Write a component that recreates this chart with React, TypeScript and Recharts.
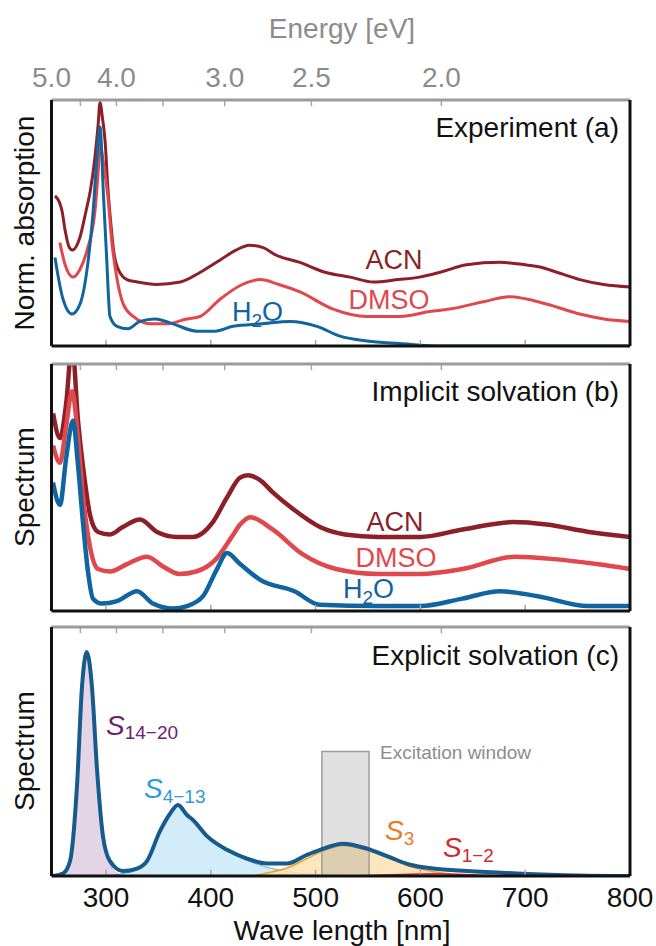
import React from "react";
import { ComposedChart, Line, Area, XAxis, YAxis, ReferenceArea, ReferenceLine } from "recharts";

// wavelength [nm], normalised value
const expAcn = [[251.3,0.61],[255,0.59],[258,0.55],[261,0.47],[265,0.4],[268,0.39],[275,0.44],[281,0.55],[285,0.63],[289.5,0.77],[292.5,0.9],[294.3,0.99],[296.5,0.93],[299,0.84],[302,0.63],[305,0.48],[307.5,0.38],[313,0.3],[320,0.27],[330,0.26],[348,0.25],[371,0.26],[390,0.3],[409,0.35],[424,0.39],[437,0.41],[450,0.4],[462,0.37],[485,0.34],[509,0.3],[533,0.28],[555,0.26],[579,0.27],[599,0.28],[619,0.3],[644,0.33],[676,0.34],[700,0.33],[715,0.32],[730,0.3],[752,0.27],[775,0.25],[800,0.24]];
const expDmso = [[256,0.42],[261,0.33],[268.5,0.28],[275,0.31],[282,0.39],[289.5,0.55],[292.4,0.7],[294.3,0.82],[297,0.76],[302.2,0.59],[305.4,0.43],[310.2,0.28],[316.5,0.17],[326,0.12],[342,0.09],[358,0.09],[377,0.11],[389.7,0.12],[408.8,0.19],[430,0.25],[447,0.27],[465,0.25],[485,0.22],[516.7,0.15],[549,0.12],[580.5,0.12],[609,0.14],[628,0.15],[660,0.18],[685,0.2],[721,0.17],[752,0.13],[775,0.11],[800,0.1]];
const expH2o = [[251.3,0.36],[259,0.19],[267.6,0.13],[275.2,0.17],[282.8,0.34],[287.6,0.54],[291.4,0.77],[294.3,0.89],[297.4,0.63],[300.6,0.36],[303.8,0.12],[310.5,0.08],[321,0.07],[332.4,0.1],[346.8,0.11],[364,0.09],[386.8,0.06],[404,0.06],[421.2,0.08],[449,0.09],[475.6,0.1],[501.3,0.08],[523.3,0.04],[549,0.02],[580.5,0.01],[620,0],[700,0],[800,0]];

const impAcn = [[249.5,0.8],[256.1,0.7],[262,0.84],[267.6,1.08],[273.3,0.77],[280,0.52],[284.7,0.39],[292.4,0.32],[303.8,0.31],[316,0.34],[332.4,0.37],[348.7,0.32],[367.7,0.3],[383,0.3],[402,0.36],[415.5,0.46],[427.9,0.54],[435.5,0.55],[447,0.53],[459.2,0.48],[479.4,0.41],[504.2,0.34],[528,0.31],[560,0.3],[600,0.3],[640.3,0.33],[688.4,0.36],[720.5,0.35],[760.6,0.32],[800,0.3]];
const impDmso = [[249.5,0.67],[256.1,0.6],[262,0.75],[267.6,0.89],[273.3,0.7],[278,0.47],[284.7,0.26],[292.4,0.17],[303.8,0.16],[320,0.19],[339.2,0.22],[354.5,0.18],[370,0.15],[386,0.16],[405,0.21],[420,0.3],[428,0.35],[437.6,0.38],[459,0.33],[487.5,0.23],[519.5,0.17],[560,0.15],[600,0.15],[640,0.17],[690,0.22],[728,0.21],[768,0.19],[800,0.17]];
const impH2o = [[249.4,0.52],[256.1,0.43],[262,0.62],[268.5,0.77],[273.3,0.59],[278,0.36],[282.8,0.16],[287.6,0.05],[296.2,0.03],[310.5,0.04],[329.6,0.08],[344.8,0.03],[364,0.01],[377.3,0.02],[392.6,0.06],[405.9,0.17],[415.5,0.235],[428,0.19],[447.6,0.125],[479.8,0.08],[503.8,0.025],[560,0.02],[600,0.02],[640,0.05],[676,0.08],[712,0.06],[760,0.02],[800,0.02]];

const explTotal = [[249.4,0],[259,0.01],[265.7,0.06],[272.3,0.36],[277.1,0.76],[281.6,0.9],[286.6,0.76],[291.4,0.43],[297.1,0.16],[303.8,0.06],[316.2,0.02],[329.6,0.03],[339.1,0.06],[351.5,0.18],[361.1,0.25],[368.7,0.285],[377.3,0.245],[383,0.225],[396.4,0.16],[415.5,0.105],[434.5,0.07],[453.6,0.05],[472.7,0.05],[491.8,0.085],[504.2,0.105],[526.2,0.13],[549,0.11],[568.2,0.08],[590.2,0.045],[612.1,0.03],[644.6,0.02],[692.2,0.01],[750,0.002],[800,0]];
const explS1420 = [[249.4,0],[259,0.01],[265.7,0.06],[272.3,0.36],[277.1,0.76],[281.6,0.9],[286.6,0.76],[291.4,0.43],[297.1,0.15],[303.8,0.045],[310,0.012],[318,0]];
const explS413 = [[300,0],[316.2,0.01],[329.6,0.025],[339.1,0.055],[351.5,0.175],[361.1,0.245],[368.7,0.28],[377.3,0.24],[383,0.22],[396.4,0.155],[415.5,0.1],[434.5,0.062],[453.6,0.035],[472.7,0.018],[491.8,0.008],[510,0.003],[530,0]];
const explS3 = [[440,0],[453.6,0.012],[472.7,0.032],[491.8,0.07],[504.2,0.095],[526.2,0.122],[549,0.103],[568.2,0.074],[590.2,0.038],[612.1,0.018],[630,0.007],[650,0]];
const explS12 = [[540,0],[565,0.004],[590,0.007],[612,0.009],[635,0.007],[660,0.003],[690,0]];

const excitationWindow = [506, 551]; // nm
const excitationHeight = 0.5;

const energyLabels = [5.0, 4.0, 3.0, 2.5, 2.0];
const energyTicks = [4.5, 4.0, 3.5, 3.0, 2.5, 2.0];
const nmLabels = [300, 400, 500, 600, 700, 800];
const nmTicks = [300, 400, 500, 600, 700];

const FONT = "'Liberation Sans', Arial, Helvetica, sans-serif";
const NM_MIN = 248;
const NM_MAX = 800;
const TICK = 0.025; // inner tick length, fraction of panel height
const ev2nm = (e: number) => 1240 / e;
const pts = (arr: number[][]) => arr.map(([x, v]) => ({ x, v }));

const C = {
  acn: "#8c1f27",
  dmso: "#e0484d",
  h2o: "#10649f",
  total: "#175a8c",
  frame: "#111",
  topLine: "#9c9c9c",
  tick: "#a8a8a8",
};

const dom: [number, number] = [NM_MIN, NM_MAX];

// box + inner tick marks, shared by the three panels
const frame = (xId: string | number) => [
  ...energyTicks.map((e) => (
    <ReferenceLine key={"e" + e} xAxisId={xId} stroke={C.tick} strokeWidth={1.5}
      segment={[{ x: ev2nm(e), y: 1 }, { x: ev2nm(e), y: 1 - TICK }]} />
  )),
  ...nmTicks.map((n) => (
    <ReferenceLine key={"n" + n} xAxisId={xId} stroke={C.tick} strokeWidth={1.5}
      segment={[{ x: n, y: 0 }, { x: n, y: TICK }]} />
  )),
  <ReferenceLine key="top" xAxisId={xId} y={1} stroke={C.topLine} strokeWidth={3} />,
  <ReferenceLine key="bottom" xAxisId={xId} y={0} stroke={C.frame} strokeWidth={3} />,
  <ReferenceLine key="left" xAxisId={xId} x={NM_MIN} stroke={C.frame} strokeWidth={3} />,
  <ReferenceLine key="right" xAxisId={xId} x={NM_MAX} stroke={C.frame} strokeWidth={3} />,
];

const line = (key: string, data: number[][], color: string, w: number, xId: string | number = 0) => (
  <Line key={key} xAxisId={xId} data={pts(data)} dataKey="v" type="monotone" stroke={color} strokeWidth={w}
    dot={false} activeDot={false} isAnimationActive={false} />
);

const yAxis = <YAxis hide domain={[0, 1]} allowDataOverflow />;

const T = { fontSize: 28, fill: "#111" };

export default function App() {
  return (
    <div style={{ position: "absolute", left: 0, top: 0, width: 656, height: 946, background: "#fff", fontFamily: FONT }}>
      {/* (a) experiment */}
      <div style={{ position: "absolute", left: 0, top: 0 }}>
        <ComposedChart width={656} height={352} margin={{ top: 0, right: 26, bottom: 6, left: 51.5 }}>
          <XAxis xAxisId="top" dataKey="x" orientation="top" type="number" domain={dom} allowDataOverflow
            ticks={energyLabels.map(ev2nm)} interval={0} tickFormatter={(v: number) => (1240 / v).toFixed(1)}
            height={100} tickSize={0} tickMargin={13} tickLine={false} axisLine={false}
            tick={{ fill: "#8c8c8c", fontSize: 28 }} />
          {yAxis}
          {line("acn", expAcn, C.acn, 3, "top")}
          {line("dmso", expDmso, C.dmso, 3, "top")}
          {line("h2o", expH2o, C.h2o, 3, "top")}
          {frame("top")}
        </ComposedChart>
      </div>

      {/* (b) implicit solvation */}
      <div style={{ position: "absolute", left: 0, top: 354 }}>
        <ComposedChart width={656} height={263} margin={{ top: 10, right: 26, bottom: 6, left: 51.5 }}>
          <XAxis hide dataKey="x" type="number" domain={dom} allowDataOverflow />
          {yAxis}
          {line("acn", impAcn, C.acn, 4.5)}
          {line("dmso", impDmso, C.dmso, 4.5)}
          {line("h2o", impH2o, C.h2o, 4.5)}
          {frame(0)}
        </ComposedChart>
      </div>

      {/* (c) explicit solvation */}
      <div style={{ position: "absolute", left: 0, top: 617 }}>
        <ComposedChart width={656} height={299} margin={{ top: 10, right: 26, bottom: 0, left: 51.5 }}>
          <XAxis dataKey="x" type="number" domain={dom} allowDataOverflow ticks={nmLabels} interval={0}
            height={40} tickSize={0} tickMargin={11} tickLine={false} axisLine={false}
            tick={{ fill: "#111", fontSize: 28 }} />
          {yAxis}
          <Area data={pts(explS1420)} dataKey="v" type="monotone" fill="#e3d5e5" fillOpacity={1}
            stroke="#c9b3cc" strokeWidth={1} isAnimationActive={false} dot={false} activeDot={false} />
          <Area data={pts(explS413)} dataKey="v" type="monotone" fill="#d3ecf9" fillOpacity={1}
            stroke="#5fb3dc" strokeWidth={1} isAnimationActive={false} dot={false} activeDot={false} />
          <Area data={pts(explS3)} dataKey="v" type="monotone" fill="#fbe2b3" fillOpacity={0.85}
            stroke="#eda126" strokeWidth={1.5} isAnimationActive={false} dot={false} activeDot={false} />
          <Area data={pts(explS12)} dataKey="v" type="monotone" fill="#f6c6c6" fillOpacity={0.8}
            stroke="#d8262f" strokeWidth={1.5} isAnimationActive={false} dot={false} activeDot={false} />
          <ReferenceArea x1={excitationWindow[0]} x2={excitationWindow[1]} y1={0} y2={excitationHeight}
            fill="#8f8f8f" fillOpacity={0.28} stroke="#9d9d9d" strokeWidth={1.5} />
          {line("total", explTotal, C.total, 4)}
          {frame(0)}
        </ComposedChart>
      </div>

      <svg width={656} height={946} style={{ position: "absolute", left: 0, top: 0, pointerEvents: "none" }} fontFamily={FONT}>
        <text x={342} y={38} fontSize={28} fill="#8c8c8c" textAnchor="middle">Energy [eV]</text>

        <text x={619} y={137} textAnchor="end" {...T}>Experiment (a)</text>
        <text x={619} y={401} textAnchor="end" {...T}>Implicit solvation (b)</text>
        <text x={619} y={665} textAnchor="end" {...T}>Explicit solvation (c)</text>

        <text transform="translate(34,223) rotate(-90)" textAnchor="middle" {...T}>Norm. absorption</text>
        <text transform="translate(34,487) rotate(-90)" textAnchor="middle" {...T}>Spectrum</text>
        <text transform="translate(34,751) rotate(-90)" textAnchor="middle" {...T}>Spectrum</text>

        <text x={342} y={940} textAnchor="middle" {...T}>Wave length [nm]</text>

        {/* series labels (a) */}
        <text x={394} y={269} textAnchor="middle" fontSize={27} fill={C.acn}>ACN</text>
        <text x={389} y={309} textAnchor="middle" fontSize={27} fill={C.dmso}>DMSO</text>
        <text x={232} y={321} fontSize={27} fill={C.h2o}>H<tspan fontSize={19} dy={6}>2</tspan><tspan dy={-6}>O</tspan></text>

        {/* series labels (b) */}
        <text x={395} y={531} textAnchor="middle" fontSize={27} fill={C.acn}>ACN</text>
        <text x={396} y={567} textAnchor="middle" fontSize={27} fill={C.dmso}>DMSO</text>
        <text x={343} y={598} fontSize={27} fill={C.h2o}>H<tspan fontSize={19} dy={6}>2</tspan><tspan dy={-6}>O</tspan></text>

        {/* state labels (c) */}
        <text x={106} y={735} fontSize={28} fill="#6c2270"><tspan fontStyle="italic">S</tspan><tspan fontSize={19} dy={4}>14−20</tspan></text>
        <text x={144} y={798} fontSize={28} fill="#2d9bd5"><tspan fontStyle="italic">S</tspan><tspan fontSize={19} dy={5}>4−13</tspan></text>
        <text x={385} y={840} fontSize={28} fill="#e97b1f"><tspan fontStyle="italic">S</tspan><tspan fontSize={19} dy={5}>3</tspan></text>
        <text x={443} y={857} fontSize={28} fill="#d52630"><tspan fontStyle="italic">S</tspan><tspan fontSize={19} dy={5}>1−2</tspan></text>
        <text x={380} y={759} fontSize={19} fill="#8d8d8d">Excitation window</text>
      </svg>
    </div>
  );
}
